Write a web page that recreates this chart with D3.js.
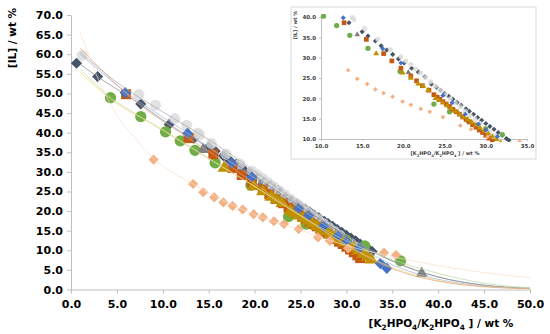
<!DOCTYPE html>
<html>
<head>
<meta charset="utf-8">
<script src="https://cdn.jsdelivr.net/npm/d3@7"></script>
<style>
  body { margin: 0; background: #fff; }
  text { font-family: "DejaVu Sans", sans-serif; }
</style>
</head>
<body>
<div id="canvas"></div>
<script>
//series values, [x, y] in wt %
var lightGray = [[1.2,59.7],[7.4,49.7],[9.2,47.0],[11.3,43.6],[12.6,41.9],[13.8,39.9],[14.0,39.4],[15.3,37.2],[16.9,34.5],[18.4,32.0],[19.7,30.2],[20.3,29.2],[20.9,28.3],[21.5,27.2],[22.1,26.2],[22.7,25.1],[23.3,24.1],[23.9,23.0],[24.5,22.0],[25.1,20.9],[25.7,19.9],[26.3,18.9],[26.9,17.9],[27.5,16.8],[28.1,15.8],[28.7,14.8],[29.3,13.8],[29.9,12.7],[30.5,11.7],[31.1,10.8],[31.5,10.2]];
var navy = [[0.6,57.7],[2.9,54.3],[7.6,47.3],[10.7,42.1],[13.4,38.6],[15.0,36.4],[15.7,35.3],[16.6,34.1],[17.3,32.9],[18.0,31.9],[18.7,30.8],[19.4,29.7],[20.1,28.7],[21.0,27.4],[21.8,26.5],[22.6,25.3],[23.4,23.5],[24.0,22.7],[24.5,22.0],[25.0,21.2],[25.5,20.5],[26.0,19.8],[26.5,19.0],[27.0,18.3],[27.6,17.4],[28.0,16.8],[28.5,16.1],[29.0,15.3],[29.5,14.6],[30.0,13.8],[30.5,13.1],[31.0,12.4],[31.5,11.6],[32.0,10.9],[32.5,10.1],[32.8,9.7]];
var green = [[4.3,48.9],[7.6,44.1],[10.3,40.2],[11.9,37.9],[13.5,35.5],[15.7,32.3],[19.6,26.6],[23.7,18.6],[25.6,16.7],[27.9,14.3],[30.0,12.5],[32.0,11.1],[35.9,7.3]];
var grayTri = [[14.4,35.7],[20.6,26.4],[38.2,4.1]];
var orange = [[6.0,49.8],[12.8,38.6],[15.5,34.5],[17.6,31.0],[18.6,29.2],[19.7,27.4],[20.9,25.5],[21.6,24.3],[22.3,23.1],[23.1,22.0],[23.7,20.9],[24.1,20.3],[24.4,19.8],[24.8,19.2],[25.2,18.6],[25.6,18.0],[26.0,17.3],[26.4,16.7],[26.8,16.1],[27.2,15.4],[27.6,14.8],[28.0,14.2],[28.4,13.5],[28.8,12.9],[29.2,12.2],[29.6,11.6],[30.0,10.9],[30.4,10.2],[30.8,9.5],[31.2,8.7],[31.5,8.0]];
var gold = [[16.7,31.0],[19.9,26.3],[20.9,25.0],[21.8,23.6],[22.4,23.0],[23.0,22.0],[23.9,20.0],[24.3,19.5],[24.8,18.9],[25.3,18.2],[25.8,17.5],[26.3,16.8],[26.8,16.1],[27.3,15.4],[27.8,14.8],[28.3,14.1],[28.8,13.4],[29.3,12.7],[29.8,12.0],[30.3,11.3],[30.8,10.6],[31.3,9.9],[31.8,9.1],[32.3,8.3],[32.7,7.6]];
var blue = [[5.9,50.2],[12.7,39.8],[17.5,32.2],[19.7,28.7],[24.8,20.7],[25.9,18.9],[27.5,16.1],[29.1,13.7],[30.0,12.2],[31.4,10.6],[33.7,6.6],[34.4,5.4]];
var peach = [[9.0,33.1],[13.3,26.9],[14.4,24.8],[15.6,23.5],[16.6,22.2],[17.6,21.3],[18.7,20.4],[19.9,19.2],[20.9,18.4],[22.1,17.4],[23.2,16.7],[24.8,15.4],[26.9,13.3],[28.2,12.4],[30.2,10.5],[34.1,9.4],[35.4,8.8]];

//fitted binodal curves
var fitLightGray = [[1,60.5],[5,52.8],[10,45.3],[15,38.2],[20,30.2],[25,21.5],[30,13.5],[35,7.2],[40,3.2],[45,1.1],[50,0.3]];
var fitNavy = [[1,57.4],[3,54.1],[7.6,47.2],[10.7,42.1],[15,36.2],[20,28.9],[25,21.1],[30,13.7],[35,7.3],[40,3.2],[45,1.1],[50,0.3]];
var fitBlue = [[1,60.0],[6,50.3],[12.7,39.9],[17.5,32.3],[20,28.4],[25,20.6],[30,12.9],[35,6.3],[40,2.6],[45,0.9],[50,0.3]];
var fitOrange = [[1,61.6],[6,50.0],[12.8,38.6],[15.5,34.5],[20,27.0],[25,19.1],[30,11.2],[35,5.3],[40,2.1],[45,0.7],[50,0.2]];
var fitGreen = [[1,56.2],[4.3,49.0],[7.6,44.0],[10.3,40.1],[13.5,35.5],[15.7,32.3],[20,26.3],[25,18.8],[30,12.4],[35,7.6],[40,4.1],[45,1.6],[50,0.4]];
var fitGold = [[1,55.4],[4.3,48.6],[10,40.8],[16.7,31.0],[20,26.3],[25,18.8],[30,11.4],[35,5.6],[40,2.3],[45,0.8],[50,0.2]];
var fitPeach = [[1,65.5],[3,53.5],[5,44.5],[7,38.5],[9,33.4],[13.3,26.9],[20,19.1],[25,15.1],[30,11.2],[35,8.4],[40,6.1],[45,4.3],[50,3.0]];

var mainXTicks = [0,5,10,15,20,25,30,35,40,45,50];
var mainYTicks = [0,5,10,15,20,25,30,35,40,45,50,55,60,65,70];
var insetXTicks = [10,15,20,25,30,35];
var insetYTicks = [10,15,20,25,30,35,40];

var cv = {'width': 550, 'height': 334};

var x = d3.scaleLinear().domain([0, 50]).range([71, 530]);
var y = d3.scaleLinear().domain([0, 70]).range([289.5, 15]);
var xi = d3.scaleLinear().domain([10, 35]).range([321, 527]);
var yi = d3.scaleLinear().domain([10, 40]).range([139, 17]);

var svg = d3.select('#canvas').append('svg')
  .attr('width', cv.width)
  .attr('height', cv.height);

//style table for every series: colour, marker, size in main and inset
var series = [
  {data: navy, color: '#44546A', shape: 'diamond', size: 62, isize: 13},
  {data: lightGray, color: '#D9D9D9', shape: 'circle', size: 95, isize: 20, opacity: 0.8},
  {data: green, color: '#70AD47', shape: 'circle', size: 100, isize: 22},
  {data: grayTri, color: '#808080', shape: 'triangle', size: 62, isize: 14},
  {data: orange, color: '#C65911', shape: 'square', size: 100, isize: 22},
  {data: gold, color: '#BF9000', shape: 'triangle', size: 78, isize: 15},
  {data: blue, color: '#4472C4', shape: 'diamond', size: 62, isize: 13},
  {data: peach, color: '#F4B183', shape: 'diamond', size: 52, isize: 11}
];

var fits = [
  {data: fitLightGray, color: '#A6A6A6'},
  {data: fitNavy, color: '#7F8794'},
  {data: fitBlue, color: '#9DB3DC'},
  {data: fitGreen, color: '#B9D9A3'},
  {data: fitGold, color: '#F5D77A'},
  {data: fitOrange, color: '#E0A47C'},
  {data: fitPeach, color: '#FADCC6'}
];

function symbolPath(shape, size) {
  var type = {circle: d3.symbolCircle, square: d3.symbolSquare, diamond: d3.symbolSquare, triangle: d3.symbolTriangle}[shape];
  return d3.symbol().type(type).size(size)();
}

function drawMarkers(g, s, xs, ys, size) {
  g.selectAll(null)
    .data(s.data)
    .enter().append('path')
    .attr('d', symbolPath(s.shape, size))
    .attr('transform', function(d) {
      return 'translate(' + xs(d[0]) + ',' + ys(d[1]) + ')' + (s.shape == 'diamond' ? ' rotate(45)' : '');
    })
    .attr('fill', s.color)
    .attr('fill-opacity', s.opacity || 1);
}

function styleAxis(g, size, weight, color) {
  g.select('.domain').attr('stroke', '#BFBFBF');
  g.selectAll('.tick line').attr('stroke', '#BFBFBF');
  g.selectAll('.tick text')
    .attr('font-size', size)
    .attr('font-weight', weight)
    .attr('fill', color);
}

//sub-scripted title text
function subTitle(t, fs) {
  var parts = [['[K', 0], ['2', 1], ['HPO', 0], ['4', 1], ['/K', 0], ['2', 1], ['HPO', 0], ['4', 1], [' ] / wt %', 0]];
  var prev = 0;
  parts.forEach(function(p) {
    t.append('tspan')
      .attr('dy', (p[1] - prev) * fs * 0.3)
      .attr('font-size', p[1] ? fs * 0.7 : fs)
      .text(p[0]);
    prev = p[1];
  });
}

//main axes
var fmt = d3.format('.1f');
var gx = svg.append('g')
  .attr('transform', 'translate(0,' + y(0) + ')')
  .call(d3.axisBottom(x).tickValues(mainXTicks).tickFormat(fmt).tickSize(4).tickSizeOuter(0).tickPadding(7));
styleAxis(gx, 11, 'bold', '#000');

var gy = svg.append('g')
  .attr('transform', 'translate(' + x(0) + ',0)')
  .call(d3.axisLeft(y).tickValues(mainYTicks).tickFormat(fmt).tickSize(4).tickSizeOuter(0).tickPadding(4));
styleAxis(gy, 11, 'bold', '#000');

svg.append('text')
  .attr('transform', 'translate(16,38) rotate(-90)')
  .attr('text-anchor', 'middle')
  .attr('font-size', 10.5)
  .attr('font-weight', 600)
  .text('[IL] / wt %');

var xt = svg.append('text')
  .attr('x', 441)
  .attr('y', 327)
  .attr('text-anchor', 'middle')
  .attr('font-weight', 600);
subTitle(xt, 10.5);

//main markers
var gm = svg.append('g');
series.forEach(function(s) { drawMarkers(gm, s, x, y, s.size); });

//trend lines on top
var line = d3.line()
  .x(function(d) { return x(d[0]); })
  .y(function(d) { return y(d[1]); })
  .curve(d3.curveMonotoneX);

svg.append('g').selectAll('path')
  .data(fits)
  .enter().append('path')
  .attr('d', function(f) { return line(f.data); })
  .attr('fill', 'none')
  .attr('stroke', function(f) { return f.color; })
  .attr('stroke-width', 0.7);

//inset
svg.append('rect')
  .attr('x', 291)
  .attr('y', 7)
  .attr('width', 245)
  .attr('height', 152)
  .attr('fill', '#fff')
  .attr('stroke', '#D9D9D9')
  .attr('stroke-width', 1);

svg.append('clipPath').attr('id', 'insetClip')
  .append('rect')
  .attr('x', 318)
  .attr('y', 14)
  .attr('width', 212)
  .attr('height', 128);

var gix = svg.append('g')
  .attr('transform', 'translate(0,' + yi(10) + ')')
  .call(d3.axisBottom(xi).tickValues(insetXTicks).tickFormat(fmt).tickSize(2).tickSizeOuter(0).tickPadding(3));
styleAxis(gix, 5.5, 'bold', '#404040');

var giy = svg.append('g')
  .attr('transform', 'translate(' + xi(10) + ',0)')
  .call(d3.axisLeft(yi).tickValues(insetYTicks).tickFormat(fmt).tickSize(2).tickSizeOuter(0).tickPadding(3));
styleAxis(giy, 5.5, 'bold', '#404040');

svg.append('text')
  .attr('transform', 'translate(297,25) rotate(-90)')
  .attr('text-anchor', 'middle')
  .attr('font-size', 5)
  .attr('font-weight', 'bold')
  .attr('fill', '#404040')
  .text('[IL] / wt %');

var it = svg.append('text')
  .attr('x', 445)
  .attr('y', 155)
  .attr('text-anchor', 'middle')
  .attr('font-weight', 'bold')
  .attr('fill', '#404040');
subTitle(it, 5);

var gi = svg.append('g').attr('clip-path', 'url(#insetClip)');
series.forEach(function(s) { drawMarkers(gi, s, xi, yi, s.isize); });
</script>
</body>
</html>
